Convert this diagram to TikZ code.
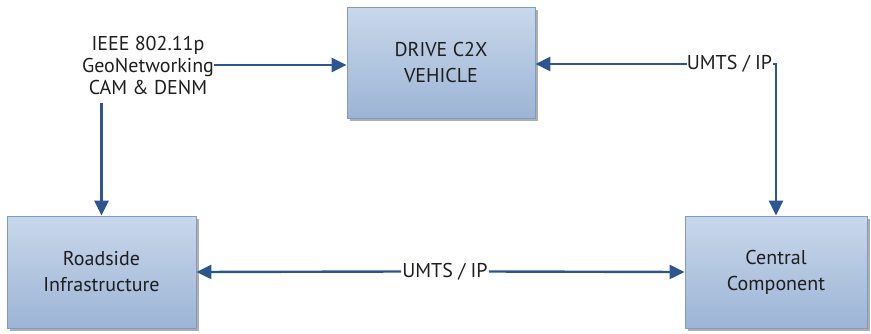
\documentclass[tikz,border=0pt]{standalone}
\usepackage{fontspec}
\setmainfont{PT Sans}
\usetikzlibrary{arrows.meta,shadows}
\definecolor{arr}{HTML}{2C5592}
\definecolor{boxtop}{HTML}{C9D8EB}
\definecolor{boxbot}{HTML}{9CB4D5}
\definecolor{boxline}{HTML}{7E9BC4}
\definecolor{txt}{HTML}{1E1E1E}
\tikzset{
  blk/.style={draw=boxline, line width=0.8pt, top color=boxtop, bottom color=boxbot,
    align=center, inner sep=0pt, text=txt,
    font=\fontsize{20pt}{26pt}\selectfont,
    drop shadow={shadow xshift=3pt, shadow yshift=-3pt, fill=black!45, opacity=0.7}},
  lbl/.style={align=center, inner sep=0pt, text=txt, font=\fontsize{20pt}{22pt}\selectfont},
  conn/.style={draw=arr, line width=2.4pt},
  tip/.style={-{Triangle[length=15pt,width=14pt]}}
}
\begin{document}
\begin{tikzpicture}[x=1pt,y=-1pt]
\useasboundingbox (0,0) rectangle (871,333);
\node[blk, minimum width=188pt, minimum height=111pt] (drive) at (441,62.5) {DRIVE C2X\\VEHICLE};
\node[blk, minimum width=189pt, minimum height=112pt] (road) at (101.5,272) {Roadside\\Infrastructure};
\node[blk, minimum width=182pt, minimum height=112pt] (central) at (776,272) {Central\\Component};
\node[lbl] (std) at (148,65) {IEEE 802.11p\\GeoNetworking\\CAM \& DENM};
\node[lbl] (u1) at (729.5,64) {UMTS / IP};
\node[lbl] (u2) at (445,271.5) {UMTS / IP};
\coordinate (stdb) at ([yshift=-9pt]std.south -| road.north);
\draw[conn, tip] (std.east) -- (std.east -| drive.west);
\draw[conn, tip] (stdb) -- (road.north);
\draw[conn, tip] (u1.west) -- (u1.west -| drive.east);
\draw[conn, tip] ([xshift=1pt]u1.east) -| (central.north);
\draw[conn, tip] ([xshift=-1pt]u2.west) -- (road.east);
\draw[conn, tip] ([xshift=1pt]u2.east) -- (central.west);
\end{tikzpicture}
\end{document}
